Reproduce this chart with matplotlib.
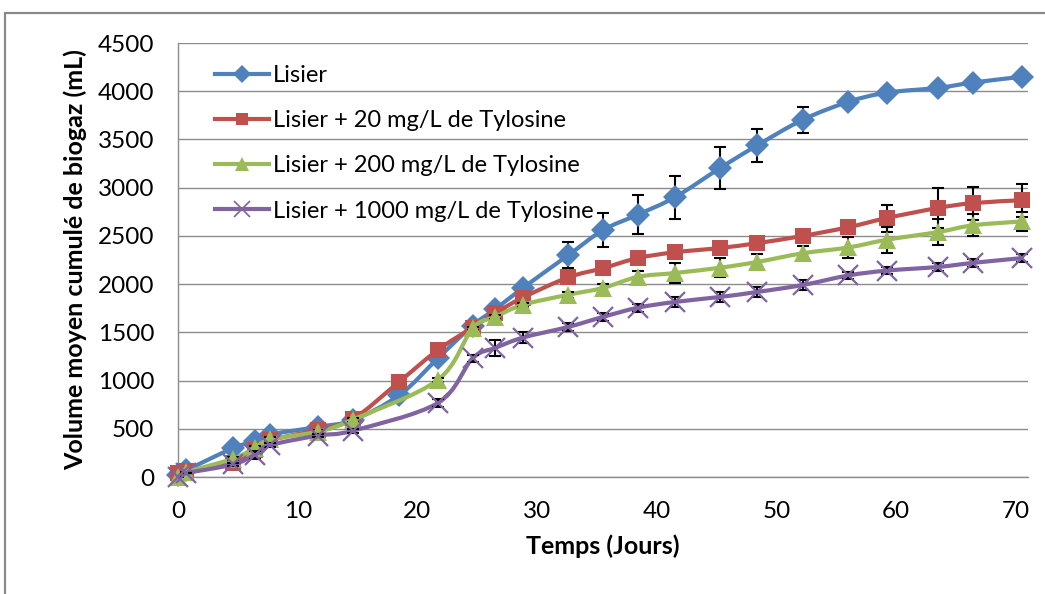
import matplotlib
matplotlib.use('Agg')
import matplotlib.pyplot as plt
from matplotlib.path import Path
from matplotlib.patches import PathPatch, Rectangle
from matplotlib.lines import Line2D
import numpy as np

plt.rcParams['font.family'] = ['Lato', 'DejaVu Sans']

# ---------------- data ----------------
days_a = [0, 0.7, 4.6, 6.4, 7.7, 11.7, 14.6, 18.5, 21.7, 24.6, 26.5, 28.8, 32.6,
          35.5, 38.4, 41.5, 45.3, 48.4, 52.2, 56.0, 59.2, 63.5, 66.4, 70.5]
days_b = [0, 0.7, 4.6, 6.4, 7.7, 11.7, 14.6, 21.7, 24.6, 26.5, 28.8, 32.6,
          35.5, 38.4, 41.5, 45.3, 48.4, 52.2, 56.0, 59.2, 63.5, 66.4, 70.5]

lisier = [20, 70, 300, 370, 440, 520, 590, 850, 1230, 1570, 1740, 1960, 2300,
          2560, 2720, 2900, 3205, 3440, 3705, 3890, 3985, 4035, 4090, 4150]
lisier_err = [0, 0, 20, 20, 20, 20, 20, 20, 20, 40, 30, 40, 135,
              175, 205, 225, 215, 170, 135, 50, 30, 30, 30, 30]

t20 = [40, 60, 150, 280, 380, 490, 600, 990, 1317, 1550, 1700, 1860, 2070,
       2165, 2270, 2330, 2375, 2425, 2500, 2590, 2685, 2790, 2840, 2870]
t20_err = [0, 0, 20, 30, 20, 20, 20, 20, 20, 30, 30, 30, 40,
           40, 60, 60, 50, 50, 50, 60, 140, 205, 172, 173]

t200 = [0, 50, 190, 300, 390, 470, 595, 1006, 1540, 1660, 1785, 1890,
        1960, 2075, 2115, 2170, 2230, 2320, 2380, 2460, 2540, 2610, 2650]
t200_err = [0, 0, 20, 20, 20, 20, 20, 20, 20, 20, 20, 30,
            40, 60, 100, 100, 80, 70, 105, 135, 135, 115, 100]

t1000 = [0, 40, 130, 230, 330, 430, 480, 767, 1230, 1338, 1445, 1556,
         1660, 1755, 1815, 1867, 1919, 1991, 2090, 2140, 2178, 2220, 2270]
t1000_err = [0, 0, 20, 40, 20, 20, 20, 40, 40, 80, 60, 40,
             40, 40, 50, 50, 50, 50, 40, 40, 40, 40, 40]

labels = ["Lisier", "Lisier + 20 mg/L de Tylosine",
          "Lisier + 200 mg/L de Tylosine", "Lisier + 1000 mg/L de Tylosine"]
x_ticks = [0, 10, 20, 30, 40, 50, 60, 70]
y_ticks = [0, 500, 1000, 1500, 2000, 2500, 3000, 3500, 4000, 4500]

colors = ["#4F81BD", "#C0504D", "#9BBB59", "#8064A2"]
markers = ["D", "s", "^", "x"]
msizes = [12, 11, 13, 14]

series = [(days_a, lisier, lisier_err),
          (days_a, t20, t20_err),
          (days_b, t200, t200_err),
          (days_b, t1000, t1000_err)]

W, H = 1045, 594
fig = plt.figure(figsize=(W / 100, H / 100), dpi=100)

# chart area border
fig.patches.append(Rectangle((5 / W, -0.1), 1.2, 1 - 13 / H + 0.1,
                             transform=fig.transFigure, fill=False,
                             edgecolor="#8a8a8a", lw=1.6))

ax = fig.add_axes([178 / W, 1 - 477 / H, (1028 - 178) / W, (477 - 43) / H])


def smooth_path(x, y):
    pts = np.column_stack([x, y]).astype(float)
    n = len(pts)
    verts = [pts[0]]
    codes = [Path.MOVETO]
    for i in range(n - 1):
        p0 = pts[i - 1] if i > 0 else pts[i]
        p1 = pts[i]
        p2 = pts[i + 1]
        p3 = pts[i + 2] if i + 2 < n else pts[i + 1]
        c1 = p1 + (p2 - p0) / 6.0
        c2 = p2 - (p3 - p1) / 6.0
        verts += [c1, c2, p2]
        codes += [Path.CURVE4] * 3
    return Path(verts, codes)


handles = []
for k, ((xs, ys, es), c, m, ms, lab) in enumerate(zip(series, colors, markers, msizes, labels)):
    z = 3 + k * 3
    ax.add_patch(PathPatch(smooth_path(xs, ys), fill=False, edgecolor=c,
                           lw=3, zorder=z, capstyle='round', joinstyle='round'))
    ax.errorbar(xs, ys, yerr=es, fmt='none', ecolor='black', elinewidth=1.5,
                capsize=4.5, capthick=1.5, zorder=z + 1)
    if m == "x":
        ax.plot(xs, ys, ls='none', marker=m, ms=ms, mew=1.6, color=c,
                zorder=z + 2, clip_on=False)
        h = Line2D([], [], color=c, lw=3, marker=m, ms=ms * 0.8, mew=1.2)
    else:
        ax.plot(xs, ys, ls='none', marker=m, ms=ms, mew=0, color=c,
                zorder=z + 2, clip_on=False)
        h = Line2D([], [], color=c, lw=3, marker=m, ms=ms * 0.75, mew=0)
    handles.append(h)

ax.set_xlim(0, 71)
ax.set_ylim(0, 4500)
ax.set_xticks(x_ticks)
ax.set_yticks(y_ticks)
ax.yaxis.grid(True, color="#8c8c8c", lw=1.0)
ax.set_axisbelow(True)
for s in ["top", "right"]:
    ax.spines[s].set_visible(False)
for s in ["left", "bottom"]:
    ax.spines[s].set_color("#8c8c8c")
    ax.spines[s].set_linewidth(1.0)
ax.tick_params(length=0, labelsize=17.5, pad=17)

ax.set_xlabel("Temps (Jours)", fontsize=18, fontweight='bold', labelpad=9)
ax.set_ylabel("Volume moyen cumulé de biogaz (mL)", fontsize=18,
              fontweight='bold', labelpad=8)

leg = ax.legend(handles, labels, loc='upper left',
                bbox_to_anchor=(203 / W, 1 - 53 / H), bbox_transform=fig.transFigure,
                frameon=False, fontsize=17, handlelength=2.3, handletextpad=0.15,
                labelspacing=1.03, borderpad=0)
leg.set_zorder(20)

fig.savefig("out.png", dpi=100)
